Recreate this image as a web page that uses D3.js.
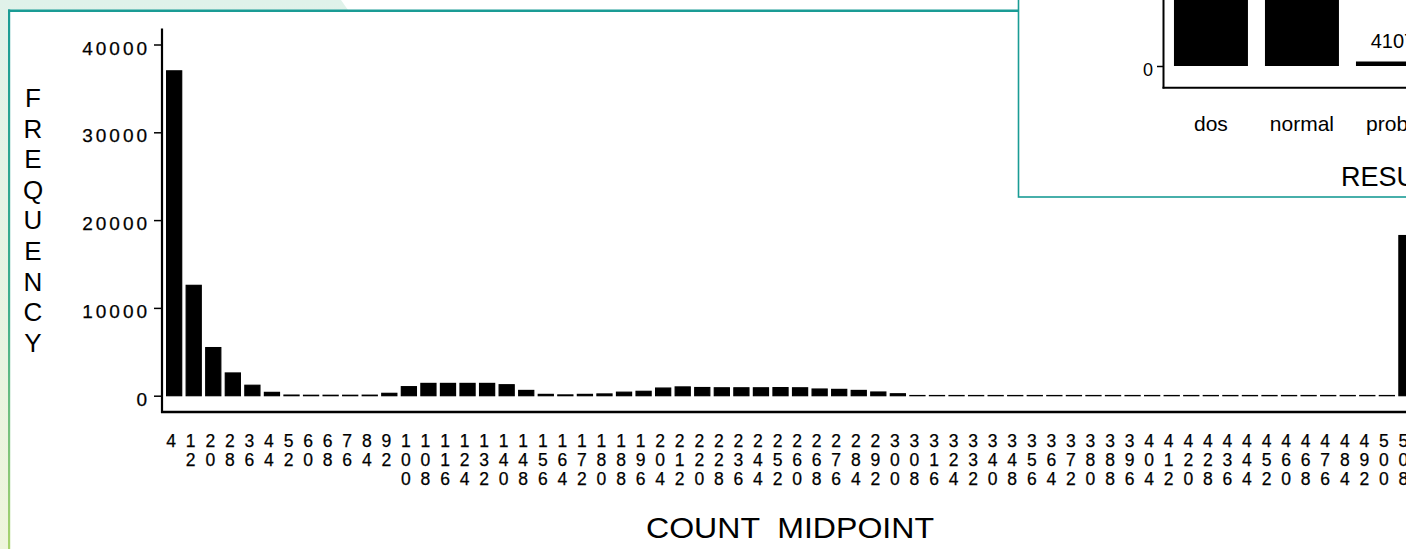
<!DOCTYPE html>
<html><head><meta charset="utf-8">
<script src="https://cdn.jsdelivr.net/npm/d3@7"></script>
<style>
html,body{margin:0;padding:0;background:#fff;overflow:hidden}
svg{display:block}
text{font-family:"Liberation Sans",Arial,Helvetica,sans-serif;fill:#000}
</style>
</head><body>
<svg id="c" width="1406" height="549"></svg>
<script>
// ---- data ----
const midpoints = [4,12,20,28,36,44,52,60,68,76,84,92,100,108,116,124,132,140,148,156,164,172,180,188,196,204,212,220,228,236,244,252,260,268,276,284,292,300,308,316,324,332,340,348,356,364,372,380,388,396,404,412,420,428,436,444,452,460,468,476,484,492,500,508];
const frequency = [37000,12570,5480,2590,1190,380,70,50,50,50,60,270,1030,1400,1400,1400,1400,1250,600,150,90,150,200,400,500,870,1000,930,900,900,900,920,900,760,720,600,420,220,20,20,20,20,20,20,20,20,20,20,20,20,20,20,20,20,20,20,20,20,20,20,20,20,20,18240];
const yTicks = [0,10000,20000,30000,40000];
const yTitle = "FREQUENCY";
const xTitle = "COUNT  MIDPOINT";
const resultCats = ["dos","normal","probe"];
const resultFreq = [391458,97278,4107];
const resultTicks = [0];
const resultTitle = "RESULT";

// ---- drawing ----
const svg = d3.select("#c");
const teal = "#1a9c95";
const defs = svg.append("defs");
const lg = defs.append("linearGradient").attr("id","lg").attr("x1",0).attr("y1",0).attr("x2",0).attr("y2",1);
lg.append("stop").attr("offset","0").attr("stop-color","#e0f2ea");
lg.append("stop").attr("offset","1").attr("stop-color","#eef5dc");
const lb = defs.append("linearGradient").attr("id","lb").attr("x1",0).attr("y1",0).attr("x2",0).attr("y2",1);
lb.append("stop").attr("offset","0").attr("stop-color",teal);
lb.append("stop").attr("offset","0.55").attr("stop-color","#3fae8e");
lb.append("stop").attr("offset","1").attr("stop-color","#a9d36e");

// page background
svg.append("rect").attr("width",1406).attr("height",549).attr("fill","#fff");
svg.append("path").attr("d","M0,0 L341,0 L348,10 L10,10 L10,549 L0,549 Z").attr("fill","url(#lg)");
// main frame
svg.append("rect").attr("x",8).attr("y",9.5).attr("width",1011).attr("height",2.5).attr("fill",teal);
svg.append("rect").attr("x",8).attr("y",9.5).attr("width",2.2).attr("height",540).attr("fill","url(#lb)");

// main chart scales
const x = d3.scaleBand().domain(midpoints).range([164.37, 164.37 + 19.56*64]).paddingInner(0.228).paddingOuter(0.114);
const y = d3.scaleLinear().domain([0,40000]).range([395.7,44.5]);

// bars
svg.append("g").selectAll("rect").data(midpoints).join("rect")
  .attr("x", d => x(d))
  .attr("width", x.bandwidth())
  .attr("y", (d,i) => y(frequency[i]))
  .attr("height", (d,i) => y(0) - y(frequency[i]))
  .attr("fill","#000").attr("stroke","#000").attr("stroke-width",1.2);

// axes lines
svg.append("line").attr("x1",162).attr("x2",162).attr("y1",28.5).attr("y2",413).attr("stroke","#000").attr("stroke-width",2.2);
svg.append("line").attr("x1",161).attr("x2",1406).attr("y1",412).attr("y2",412).attr("stroke","#000").attr("stroke-width",2.4);

// y axis ticks & labels
const yAxis = d3.axisLeft(y).tickValues(yTicks).tickSize(7).tickSizeOuter(0).tickFormat(d3.format("d"));
const ya = svg.append("g").attr("transform","translate(161,0)").call(yAxis);
ya.select(".domain").remove();
ya.selectAll(".tick line").attr("stroke","#000").attr("stroke-width",1.5);
ya.selectAll(".tick text").attr("font-size",19).attr("x",-14).attr("dy","0.5em")
  .attr("font-family",'"Liberation Sans",Arial,sans-serif')
  .attr("stroke","#000").attr("stroke-width",0.25)
  .each(function(d){ const s=String(d); if(s.length>1){ d3.select(this).attr("textLength", s.length*13.7-3.7).attr("lengthAdjust","spacing"); } });

// x tick labels: digits stacked vertically
const xl = svg.append("g").selectAll("g").data(midpoints).join("g")
  .attr("transform", d => `translate(${x(d)+x.bandwidth()/2-3},0)`);
xl.selectAll("text").data(d => String(d).split("")).join("text")
  .attr("x",0).attr("y",(d,j) => 447 + j*19.2)
  .attr("text-anchor","middle").attr("font-size",17.5)
  .attr("stroke","#000").attr("stroke-width",0.25)
  .text(d => d);

// y title: stacked letters
svg.append("g").selectAll("text").data(yTitle.split("")).join("text")
  .attr("x",33).attr("y",(d,i) => 107 + i*30.6)
  .attr("text-anchor","middle").attr("font-size",26)
  .text(d => d);

// x title
svg.append("text").attr("x",790).attr("y",538).attr("text-anchor","middle")
  .attr("font-size",29).attr("textLength",288).attr("lengthAdjust","spacingAndGlyphs")
  .style("white-space","pre")
  .text(xTitle);

// ---- inset chart ----
const inset = svg.append("g");
inset.append("rect").attr("x",1018.5).attr("y",-2).attr("width",400).attr("height",199).attr("fill","#fff")
  .attr("stroke",teal).attr("stroke-width",1.6);

const xi = d3.scaleBand().domain(resultCats).range([1163.5, 1163.5 + 91*(3 - 0.187 + 0.23)]).paddingInner(0.187).paddingOuter(0.115);
const yi = d3.scaleLinear().domain([0,100000]).range([66,-43.6]);

inset.append("g").selectAll("rect").data(resultCats).join("rect")
  .attr("x", d => xi(d)).attr("width", xi.bandwidth())
  .attr("y", (d,i) => yi(resultFreq[i])).attr("height",(d,i) => yi(0) - yi(resultFreq[i]))
  .attr("fill","#000");
inset.append("g").selectAll("text").data(resultCats).join("text")
  .attr("x", d => xi(d) + xi.bandwidth()/2)
  .attr("y", (d,i) => yi(resultFreq[i]) - 13.8)
  .attr("text-anchor","middle").attr("font-size",20)
  .text((d,i) => resultFreq[i]);

inset.append("line").attr("x1",1163.5).attr("x2",1163.5).attr("y1",-2).attr("y2",88.5).attr("stroke","#000").attr("stroke-width",2);
inset.append("line").attr("x1",1162.5).attr("x2",1406).attr("y1",87.7).attr("y2",87.7).attr("stroke","#000").attr("stroke-width",2);

const yiAxis = d3.axisLeft(yi).tickValues(resultTicks).tickSize(6).tickSizeOuter(0);
const yia = inset.append("g").attr("transform","translate(1163,0)").call(yiAxis);
yia.select(".domain").remove();
yia.selectAll(".tick line").attr("stroke","#000").attr("stroke-width",1.5);
yia.selectAll(".tick text").attr("font-size",18).attr("x",-10).attr("dy","0.55em")
  .attr("font-family",'"Liberation Sans",Arial,sans-serif');

inset.append("g").selectAll("text").data(resultCats).join("text")
  .attr("x", d => xi(d) + xi.bandwidth()/2).attr("y",131)
  .attr("text-anchor","middle").attr("font-size",21)
  .text(d => d);

inset.append("text").attr("x",1341).attr("y",186).attr("font-size",27).text(resultTitle);
</script>
</body></html>
